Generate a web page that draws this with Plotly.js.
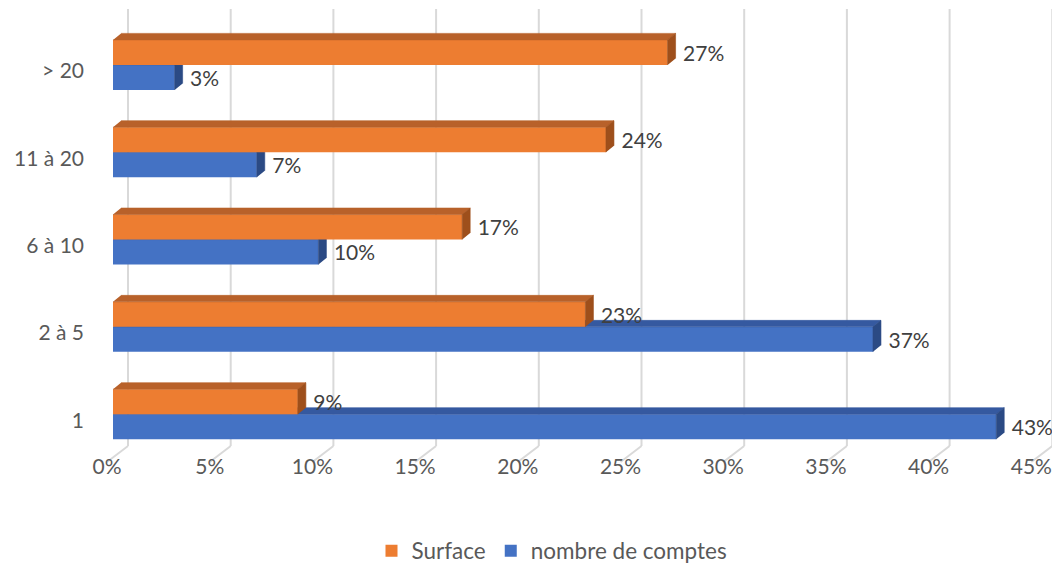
<!DOCTYPE html>
<html>
<head>
<meta charset="utf-8">
<script src="https://cdn.plot.ly/plotly-3.0.1.min.js"></script>
<style>
  html, body { margin: 0; padding: 0; background: #ffffff; }
  #chart { width: 1052px; height: 563px; }
</style>
</head>
<body>
<div id="chart"></div>
<script>
// Répartition par nombre de comptes
const categories = ['1', '2 à 5', '6 à 10', '11 à 20', '> 20'];
const surface = [9, 23, 17, 24, 27];          // %
const nombreComptes = [43, 37, 10, 7, 3];     // %
const tickValues = [0, 5, 10, 15, 20, 25, 30, 35, 40, 45];

// ---- drawing geometry (pixels) ----
const W = 1052, H = 563;
const PX_PER_PCT = 20.54;   // horizontal scale
const PX_PER_CAT = 87.33;   // vertical distance between categories
const BAR_X0 = 113;         // 0 % on the front face of the bars
const FLOOR_X0 = 107;       // 0 % on the front edge of the floor
const CAT0_Y = 414.2;       // middle of the first category's bar pair
const BAR_PX = 25;          // thickness of one bar
const DEPTH_DX = 8, DEPTH_DY = 6.5;        // depth of a bar
const FLOOR_FRONT_DX = -6, FLOOR_FRONT_Y = 462;
const WALL_DX = 15, WALL_BOTTOM_Y = 446, WALL_TOP_Y = 9;
const LABEL_SHIFT_PX = 6;

const ux = px => px / PX_PER_PCT;          // pixels -> % units
const uy = px => px / PX_PER_CAT;          // pixels -> category units (up)
const yAt = py => (CAT0_Y - py) / PX_PER_CAT;

const xRange = [-BAR_X0 / PX_PER_PCT, (W - BAR_X0) / PX_PER_PCT];
const yRange = [yAt(H), yAt(0)];
const idx = categories.map((c, i) => i);
const BAR_H = uy(BAR_PX), DDX = ux(DEPTH_DX), DDY = uy(DEPTH_DY);

const COLORS = {
  orange: { front: '#ED7D31', top: '#B8612A', side: '#9E4F1B' },
  blue:   { front: '#4472C4', top: '#3559A0', side: '#2B4A84' }
};

// top and side faces of a bar series, as closed polygons
function faces(values, base) {
  const top = { x: [], y: [] }, side = { x: [], y: [] };
  values.forEach((v, i) => {
    const y0 = i + base, y1 = y0 + BAR_H;
    top.x.push(0, v, v + DDX, DDX, null);
    top.y.push(y1, y1, y1 + DDY, y1 + DDY, null);
    side.x.push(v, v, v + DDX, v + DDX, null);
    side.y.push(y0, y1, y1 + DDY, y0 + DDY, null);
  });
  return { top, side };
}

function faceTrace(poly, color, xa, ya) {
  return {
    type: 'scatter', mode: 'lines', x: poly.x, y: poly.y,
    fill: 'toself', fillcolor: color, line: { width: 0.6, color: color },
    xaxis: xa, yaxis: ya, showlegend: false, hoverinfo: 'skip'
  };
}

const blueFaces = faces(nombreComptes, -BAR_H);
const orangeFaces = faces(surface, 0);

const labelFont = { family: 'Lato, sans-serif', size: 21, color: '#404040' };
const LABEL_DX = ux(15.5), LABEL_DY = uy(3.2);

const traces = [
  {
    type: 'bar', orientation: 'h', name: 'nombre de comptes', legendrank: 2,
    x: nombreComptes, y: idx, width: BAR_H, offset: -BAR_H,
    marker: { color: COLORS.blue.front, line: { width: 0 } },
    xaxis: 'x', yaxis: 'y', hoverinfo: 'skip'
  },
  faceTrace(blueFaces.top, COLORS.blue.top, 'x', 'y'),
  faceTrace(blueFaces.side, COLORS.blue.side, 'x', 'y'),
  {
    type: 'bar', orientation: 'h', name: 'Surface', legendrank: 1,
    x: surface, y: idx, width: BAR_H, offset: 0,
    marker: { color: COLORS.orange.front, line: { width: 0 } },
    xaxis: 'x2', yaxis: 'y2', hoverinfo: 'skip'
  },
  faceTrace(orangeFaces.top, COLORS.orange.top, 'x2', 'y2'),
  faceTrace(orangeFaces.side, COLORS.orange.side, 'x2', 'y2'),
  {
    type: 'scatter', mode: 'text', showlegend: false, hoverinfo: 'skip',
    x: nombreComptes.map(v => v + LABEL_DX),
    y: idx.map(i => i - BAR_H / 2 - LABEL_DY),
    text: nombreComptes.map(v => v + '%'),
    textposition: 'middle right', textfont: labelFont, cliponaxis: false,
    xaxis: 'x2', yaxis: 'y2'
  },
  {
    type: 'scatter', mode: 'text', showlegend: false, hoverinfo: 'skip',
    x: surface.map(v => v + LABEL_DX),
    y: idx.map(i => i + BAR_H / 2 - LABEL_DY),
    text: surface.map(v => v + '%'),
    textposition: 'middle right', textfont: labelFont, cliponaxis: false,
    xaxis: 'x2', yaxis: 'y2'
  },
  // carries the floor's percentage axis
  {
    type: 'scatter', mode: 'markers', x: [0], y: [null], showlegend: false,
    hoverinfo: 'skip', marker: { opacity: 0 }, xaxis: 'x3', yaxis: 'y'
  }
];

// back wall gridlines and floor lines
const gridLine = { color: '#D9D9D9', width: 2 };
const shapes = [];
tickValues.forEach(k => {
  shapes.push({
    type: 'line', layer: 'below', xref: 'x', yref: 'y',
    x0: k + ux(WALL_DX), x1: k + ux(WALL_DX),
    y0: yAt(WALL_BOTTOM_Y), y1: yAt(WALL_TOP_Y), line: gridLine
  });
  shapes.push({
    type: 'line', layer: 'below', xref: 'x', yref: 'y',
    x0: k + ux(FLOOR_FRONT_DX), x1: k + ux(WALL_DX),
    y0: yAt(FLOOR_FRONT_Y), y1: yAt(WALL_BOTTOM_Y), line: gridLine
  });
});

const tickFont = { family: 'Lato, sans-serif', size: 21, color: '#595959' };
const legendFont = { family: 'Lato, sans-serif', size: 22.5, color: '#595959' };
const hidden = { visible: false, fixedrange: true };

const layout = {
  width: W, height: H,
  margin: { l: 0, r: 0, t: 0, b: 0, autoexpand: false },
  paper_bgcolor: '#ffffff', plot_bgcolor: 'rgba(0,0,0,0)',
  barmode: 'overlay',
  showlegend: true,
  xaxis: Object.assign({ range: xRange }, hidden),
  xaxis2: Object.assign({ range: xRange, overlaying: 'x', anchor: 'y2' }, hidden),
  xaxis3: {
    range: [-FLOOR_X0 / PX_PER_PCT, (W - FLOOR_X0) / PX_PER_PCT],
    overlaying: 'x', anchor: 'free', position: (H - 452) / H, side: 'bottom',
    tickvals: tickValues, ticktext: tickValues.map(v => v + '%'),
    showgrid: false, zeroline: false, showline: false, ticks: '',
    tickfont: tickFont, fixedrange: true, automargin: false
  },
  yaxis: {
    range: yRange, anchor: 'free', position: 84 / W, side: 'left',
    tickvals: idx.map(i => i - uy(LABEL_SHIFT_PX)), ticktext: categories,
    showgrid: false, zeroline: false, showline: false, ticks: '',
    tickfont: tickFont, fixedrange: true, automargin: false
  },
  yaxis2: Object.assign({ range: yRange, overlaying: 'y', anchor: 'x2' }, hidden),
  legend: {
    orientation: 'h', x: 552 / W, xanchor: 'center',
    y: (H - 551) / H, yanchor: 'middle',
    font: legendFont, bgcolor: 'rgba(0,0,0,0)'
  },
  shapes: shapes
};

Plotly.newPlot('chart', traces, layout, { displayModeBar: false, staticPlot: true });
</script>
</body>
</html>
